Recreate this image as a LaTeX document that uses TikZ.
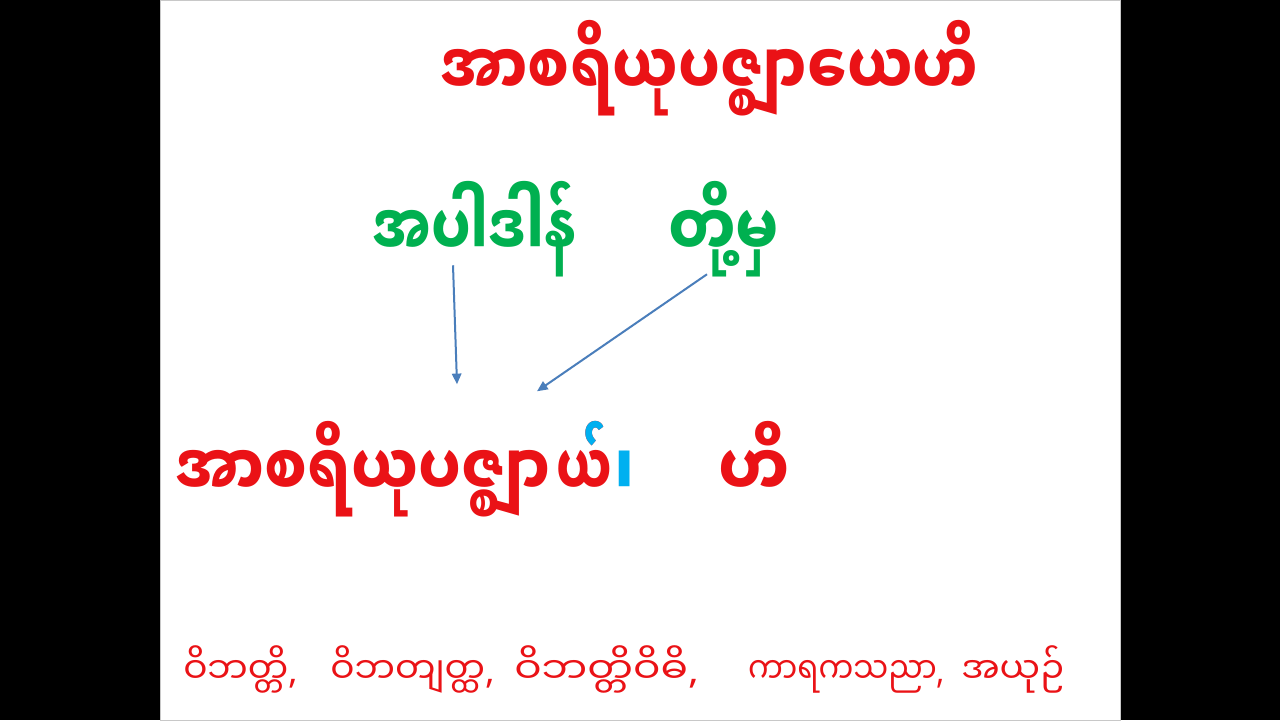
\documentclass[tikz,border=0pt]{standalone}
\usepackage{fontspec}
\usepackage{tikz}
\usetikzlibrary{arrows.meta}
\newfontfamily\mmfont[Script=Myanmar]{Noto Sans Myanmar UI}
\newfontfamily\latinfont{Noto Sans}
\definecolor{slideRed}{RGB}{234,18,22}
\definecolor{slideGreen}{RGB}{0,176,80}
\definecolor{slideBlue}{RGB}{0,176,240}
\definecolor{arrowBlue}{RGB}{74,126,187}
\newcommand{\cm}{{\latinfont ,}}
\tikzset{
  mmtext/.style={inner sep=0pt, anchor=base west},
  bigtext/.style={mmtext, yscale=1.13, font=\mmfont\bfseries\fontsize{48}{58}\selectfont},
  smalltext/.style={mmtext, color=slideRed, font=\mmfont\fontsize{27}{32}\selectfont},
  pointer/.style={draw=arrowBlue, line width=1.5pt, -{Triangle[length=8pt,width=7pt]}}
}
\begin{document}
\begin{tikzpicture}[x=0.75pt,y=0.75pt,yscale=-1,xscale=1]
%set diagram to the 1280 x 720 frame
\path [fill=black] (0,0) rectangle (1280,720);
\path [fill=white, draw={rgb, 255:red, 200; green, 200; blue, 200}] (160,0) rectangle (1120,720);

% Text Node
\draw (440,96) node [bigtext, xscale=0.92, color=slideRed] (title) {အာစရိယုပဇ္ဈာယေဟိ};
% Text Node
\draw (372,257) node [bigtext, xscale=0.87, color=slideGreen] (apadan) {အပါဒါန်};
% Text Node
\draw (668,257) node [bigtext, xscale=0.95, color=slideGreen] (tohma) {တို့မှ};
% Text Node
\draw (175,497) node [bigtext, xscale=0.94, color=slideRed] (stem) {အာစရိယုပဇ္ဈာ};
% Text Node
\draw (556,497) node [bigtext, xscale=0.78, color=slideRed] (ya) {ယ်};
\begin{scope}
\clip (546,400) rectangle (625,447);
\draw (556,497) node [bigtext, xscale=0.78, color=slideBlue] (asat) {ယ်};
\end{scope}
% Text Node
\draw (614,497) node [bigtext, color=slideBlue] (bar) {၊};
% Text Node
\draw (718,497) node [bigtext, color=slideRed] (hi) {ဟိ};

% Text Node
\draw (183,683) node [smalltext] (caseA) {ဝိဘတ္တိ\cm};
% Text Node
\draw (330,683) node [smalltext] (caseB) {ဝိဘတျတ္ထ\cm};
% Text Node
\draw (514,683) node [smalltext, xscale=1.13] (caseC) {ဝိဘတ္တိဝိဓိ\cm};
% Text Node
\draw (748,683) node [smalltext, xscale=0.86] (caseD) {ကာရကသညာ\cm};
% Text Node
\draw (961,683) node [smalltext] (caseE) {အယုဉ်};

%Straight Lines
\coordinate (fromA) at (453,265);
\coordinate (tipA) at (457,384);
\coordinate (fromB) at (707,274);
\coordinate (tipB) at (537,391);
\draw [pointer] (fromA) -- (tipA);
\draw [pointer] (fromB) -- (tipB);
\end{tikzpicture}
\end{document}
